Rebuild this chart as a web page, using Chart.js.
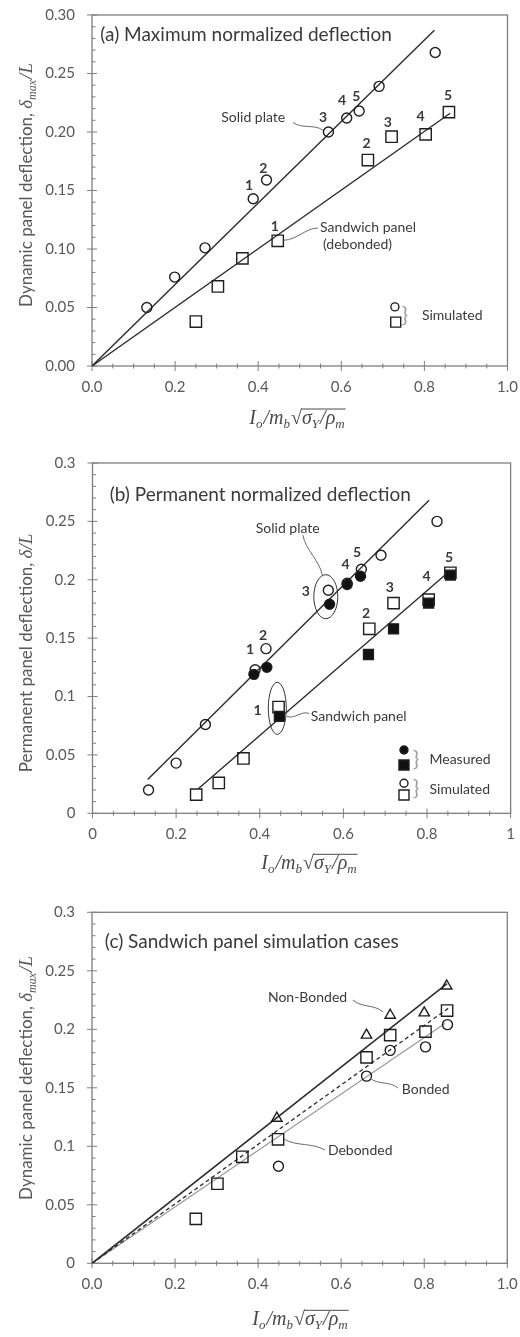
<!DOCTYPE html>
<html>
<head>
<meta charset="utf-8">
<script src="https://cdn.jsdelivr.net/npm/chart.js@4.4.1/dist/chart.umd.min.js"></script>
<style>
  body { margin: 0; background: #fff; }
  canvas { display: block; }
</style>
</head>
<body>
<canvas id="chartA" width="520" height="445"></canvas>
<canvas id="chartB" width="520" height="445"></canvas>
<canvas id="chartC" width="520" height="447"></canvas>
<script>
// tick labels
const xTicksA = ['0.0', '0.2', '0.4', '0.6', '0.8', '1.0'];
const yTicksA = ['0.00', '0.05', '0.10', '0.15', '0.20', '0.25', '0.30'];
const xTicksB = ['0', '0.2', '0.4', '0.6', '0.8', '1'];
const yTicksB = ['0', '0.05', '0.1', '0.15', '0.2', '0.25', '0.3'];
const xTicksC = ['0.0', '0.2', '0.4', '0.6', '0.8', '1.0'];
const yTicksC = ['0', '0.05', '0.1', '0.15', '0.2', '0.25', '0.3'];

// (a) maximum normalized deflection, simulated
const aSolidX = [0.132, 0.199, 0.272, 0.388, 0.420, 0.569, 0.613, 0.643, 0.691, 0.826];
const aSolidY = [0.050, 0.076, 0.101, 0.143, 0.159, 0.200, 0.212, 0.218, 0.239, 0.268];
const aSandX = [0.250, 0.303, 0.362, 0.447, 0.664, 0.721, 0.803, 0.859];
const aSandY = [0.038, 0.068, 0.092, 0.107, 0.176, 0.196, 0.198, 0.217];
const aSolidFitX = [0, 0.824];
const aSolidFitY = [0, 0.287];
const aSandFitX = [0, 0.862];
const aSandFitY = [0, 0.216];

// (b) permanent normalized deflection
const bSolidSimX = [0.134, 0.200, 0.270, 0.389, 0.415, 0.564, 0.609, 0.643, 0.690, 0.824];
const bSolidSimY = [0.020, 0.043, 0.076, 0.123, 0.141, 0.191, 0.197, 0.209, 0.221, 0.250];
const bSolidMeasX = [0.386, 0.417, 0.567, 0.609, 0.641];
const bSolidMeasY = [0.119, 0.125, 0.179, 0.196, 0.203];
const bSandSimX = [0.248, 0.302, 0.361, 0.445, 0.662, 0.720, 0.804, 0.856];
const bSandSimY = [0.016, 0.026, 0.047, 0.091, 0.158, 0.180, 0.183, 0.206];
const bSandMeasX = [0.447, 0.660, 0.720, 0.804, 0.856];
const bSandMeasY = [0.083, 0.136, 0.158, 0.180, 0.204];
const bSolidFitX = [0.132, 0.805];
const bSolidFitY = [0.029, 0.268];
const bSandFitX = [0.253, 0.853];
const bSandFitY = [0.021, 0.207];

// (c) sandwich panel simulation cases
const cNonX = [0.445, 0.661, 0.718, 0.800, 0.854];
const cNonY = [0.124, 0.195, 0.212, 0.214, 0.237];
const cDebX = [0.250, 0.302, 0.362, 0.448, 0.661, 0.718, 0.803, 0.855];
const cDebY = [0.038, 0.068, 0.091, 0.106, 0.176, 0.195, 0.198, 0.216];
const cBondX = [0.449, 0.661, 0.718, 0.803, 0.856];
const cBondY = [0.083, 0.160, 0.182, 0.185, 0.204];
const cNonFitX = [0, 0.855];
const cNonFitY = [0, 0.239];
const cDebFitX = [0, 0.858];
const cDebFitY = [0, 0.218];
const cBondFitX = [0, 0.850];
const cBondFitY = [0, 0.205];

const AXIS = '#7f7f7f';
const TICK_TXT = '#595959';
const TXT = '#3a3a3a';
const SANS = 'Lato';
const SERIF = '"Liberation Serif"';

function pts(xs, ys) {
    return xs.map((x, i) => ({ x: x, y: ys[i] }));
}

function markers(xs, ys, style, fill, r, order) {
    return {
        data: pts(xs, ys),
        showLine: false,
        pointStyle: style,
        pointRadius: r,
        pointHoverRadius: r,
        pointBackgroundColor: fill,
        pointBorderColor: '#1e1e1e',
        pointBorderWidth: 1.4,
        order: order
    };
}

function fitLine(xs, ys, color, width, dash) {
    return {
        data: pts(xs, ys),
        showLine: true,
        borderColor: color,
        borderWidth: width,
        borderDash: dash || [],
        pointRadius: 0,
        order: 5
    };
}

// draws text made of several runs (italic, subscripts)
function drawRuns(ctx, runs, x, y, align) {
    let total = 0;
    runs.forEach(r => { ctx.font = r.f; r.w = ctx.measureText(r.t).width + (r.gap || 0); total += r.w; });
    let cx = align === 'center' ? x - total / 2 : x;
    let overStart = null, overEnd = null;
    runs.forEach(r => {
        ctx.font = r.f;
        ctx.fillText(r.t, cx, y + (r.dy || 0));
        if (r.over) {
            if (overStart === null) overStart = cx;
            overEnd = cx + r.w;
        }
        cx += r.w;
    });
    if (overStart !== null) {
        ctx.lineWidth = 1;
        ctx.beginPath();
        ctx.moveTo(overStart - 1, y - 15);
        ctx.lineTo(overEnd + 1, y - 15);
        ctx.stroke();
    }
}

const xTitleRuns = () => [
    { t: 'I', f: 'italic 20px ' + SERIF },
    { t: 'o', f: 'italic 13px ' + SERIF, dy: 4, gap: 1 },
    { t: '/', f: 'italic 20px ' + SERIF },
    { t: 'm', f: 'italic 20px ' + SERIF },
    { t: 'b', f: 'italic 13px ' + SERIF, dy: 4, gap: 1 },
    { t: '√', f: '20px ' + SERIF },
    { t: 'σ', f: 'italic 20px ' + SERIF, over: true },
    { t: 'Y', f: 'italic 13px ' + SERIF, dy: 4, over: true, gap: 1 },
    { t: '/', f: 'italic 20px ' + SERIF, over: true },
    { t: 'ρ', f: 'italic 20px ' + SERIF, over: true },
    { t: 'm', f: 'italic 13px ' + SERIF, dy: 4, over: true }
];

// decoration plugin built per panel so its settings stay plain objects
function panelDecor(o) {
    return {
        id: 'panelDecor',
        beforeDatasetsDraw(chart) {
            const ctx = chart.ctx, a = chart.chartArea;
            const sx = chart.scales.x, sy = chart.scales.y;
            ctx.save();
            ctx.strokeStyle = AXIS;
            ctx.lineWidth = 1.3;
            ctx.strokeRect(a.left, a.top, a.right - a.left, a.bottom - a.top);
            ctx.lineWidth = 1;
            for (let i = 0; i <= 20; i++) {
                const px = sx.getPixelForValue(i * 0.05);
                const major = i % 4 === 0;
                ctx.beginPath();
                ctx.moveTo(px, a.bottom - (major ? 5 : 2.5));
                ctx.lineTo(px, a.bottom + (major ? 5 : 2.5));
                ctx.stroke();
            }
            for (let i = 0; i <= 30; i++) {
                const py = sy.getPixelForValue(i * 0.01);
                const major = i % 5 === 0;
                ctx.beginPath();
                ctx.moveTo(a.left - (major ? 5 : 0), py);
                ctx.lineTo(a.left + (major ? 5 : 3.5), py);
                ctx.stroke();
            }
            ctx.restore();
        },
        afterDatasetsDraw(chart) {
            const ctx = chart.ctx, a = chart.chartArea;
            const sx = chart.scales.x, sy = chart.scales.y;
            const X = v => sx.getPixelForValue(v), Y = v => sy.getPixelForValue(v);
            ctx.save();
            // leader lines
            ctx.strokeStyle = '#6a6a6a';
            ctx.lineWidth = 1;
            (o.leaders || []).forEach(l => {
                const x0 = X(l[0]), y0 = Y(l[1]), x1 = X(l[2]), y1 = Y(l[3]);
                const dx = x1 - x0, dy = y1 - y0;
                const len = Math.hypot(dx, dy), nx = -dy / len * 4, ny = dx / len * 4;
                ctx.beginPath();
                ctx.moveTo(x0, y0);
                ctx.bezierCurveTo(x0 + dx / 3 + nx, y0 + dy / 3 + ny, x0 + 2 * dx / 3 - nx, y0 + 2 * dy / 3 - ny, x1, y1);
                ctx.stroke();
            });
            // ellipses
            ctx.strokeStyle = '#333';
            (o.ellipses || []).forEach(e => {
                ctx.beginPath();
                ctx.ellipse(X(e.x), Y(e.y), e.rx, e.ry, 0, 0, Math.PI * 2);
                ctx.stroke();
            });
            // legend symbols
            ctx.strokeStyle = '#1e1e1e';
            ctx.lineWidth = 1.4;
            (o.symbols || []).forEach(s => {
                const px = X(s.x), py = Y(s.y);
                ctx.beginPath();
                if (s.style === 'circle') ctx.arc(px, py, s.r, 0, Math.PI * 2);
                else ctx.rect(px - s.r, py - s.r, 2 * s.r, 2 * s.r);
                if (s.filled) { ctx.fillStyle = '#111'; ctx.fill(); }
                ctx.stroke();
            });
            // texts
            ctx.textBaseline = 'middle';
            (o.texts || []).forEach(t => {
                ctx.font = t.font || ('14px ' + SANS);
                ctx.fillStyle = t.color || TXT;
                ctx.textAlign = t.align || 'left';
                ctx.fillText(t.t, X(t.x), Y(t.y));
            });
            // axis titles
            ctx.fillStyle = '#4a4a4a';
            ctx.strokeStyle = '#4a4a4a';
            ctx.textAlign = 'left';
            ctx.textBaseline = 'alphabetic';
            drawRuns(ctx, xTitleRuns(), o.xTitleX, a.bottom + o.xTitleDy, 'center');
            ctx.fillStyle = TICK_TXT;
            ctx.translate(o.yTitleX, o.yTitleY);
            ctx.rotate(-Math.PI / 2);
            drawRuns(ctx, o.yTitle, 0, 0, 'center');
            ctx.restore();
        }
    };
}

function makeChart(id, datasets, xLabels, yLabels, area, decor) {
    const canvas = document.getElementById(id);
    return new Chart(canvas.getContext('2d'), {
        type: 'scatter',
        data: { datasets: datasets },
        plugins: [panelDecor(decor)],
        options: {
            responsive: false,
            animation: false,
            events: [],
            layout: { padding: { top: area.top, right: canvas.width - area.right, left: 0, bottom: 0 } },
            plugins: {
                legend: { display: false },
                tooltip: { enabled: false }
            },
            scales: {
                x: {
                    type: 'linear', min: 0, max: 1,
                    grid: { display: false, drawTicks: false },
                    border: { display: false },
                    ticks: {
                        stepSize: 0.2, padding: 12, maxRotation: 0,
                        color: TICK_TXT, font: { family: SANS, size: 15 },
                        callback: (v, i) => xLabels[i]
                    },
                    afterFit: s => { s.height = canvas.height - area.bottom; s.paddingLeft = 0; s.paddingRight = 0; }
                },
                y: {
                    type: 'linear', min: 0, max: 0.3,
                    grid: { display: false, drawTicks: false },
                    border: { display: false },
                    ticks: {
                        stepSize: 0.05, padding: 17,
                        color: TICK_TXT, font: { family: SANS, size: 15 },
                        callback: (v, i) => yLabels[i]
                    },
                    afterFit: s => { s.width = area.left; s.paddingTop = 0; s.paddingBottom = 0; }
                }
            }
        }
    });
}

const numFont = 'bold 14px ' + SANS;
const braceFont = '22px ' + SANS;
const yTitleDyn = [
    { t: 'Dynamic panel deflection, ', f: '17px ' + SANS },
    { t: 'δ', f: 'italic 19px ' + SERIF },
    { t: 'max', f: 'italic 12px ' + SERIF, dy: 4, gap: 1 },
    { t: '/L', f: 'italic 19px ' + SERIF }
];

// panel (a)
makeChart('chartA', [
    markers(aSolidX, aSolidY, 'circle', 'rgba(0,0,0,0)', 5, 1),
    markers(aSandX, aSandY, 'rect', 'rgba(0,0,0,0)', 8, 1),
    fitLine(aSolidFitX, aSolidFitY, '#2b2b2b', 1.4),
    fitLine(aSandFitX, aSandFitY, '#2b2b2b', 1.4)
], xTicksA, yTicksA, { left: 92, right: 507.5, top: 15, bottom: 366 }, {
    xTitleX: 297, xTitleDy: 58, yTitleX: 32, yTitleY: 185,
    yTitle: yTitleDyn,
    texts: [
        { x: 0.02, y: 0.283, t: '(a) Maximum normalized deflection', font: '19px ' + SANS },
        { x: 0.388, y: 0.212, t: 'Solid plate', align: 'center' },
        { x: 0.549, y: 0.118, t: 'Sandwich panel' },
        { x: 0.556, y: 0.104, t: '(debonded)' },
        { x: 0.794, y: 0.043, t: 'Simulated' },
        { x: 0.745, y: 0.044, t: '}', font: braceFont, color: '#a0a0a0' },
        { x: 0.378, y: 0.154, t: '1', font: numFont, align: 'center' },
        { x: 0.412, y: 0.169, t: '2', font: numFont, align: 'center' },
        { x: 0.556, y: 0.212, t: '3', font: numFont, align: 'center' },
        { x: 0.602, y: 0.227, t: '4', font: numFont, align: 'center' },
        { x: 0.636, y: 0.230, t: '5', font: numFont, align: 'center' },
        { x: 0.440, y: 0.119, t: '1', font: numFont, align: 'center' },
        { x: 0.661, y: 0.190, t: '2', font: numFont, align: 'center' },
        { x: 0.712, y: 0.208, t: '3', font: numFont, align: 'center' },
        { x: 0.791, y: 0.213, t: '4', font: numFont, align: 'center' },
        { x: 0.857, y: 0.231, t: '5', font: numFont, align: 'center' }
    ],
    leaders: [[0.484, 0.208, 0.556, 0.2015], [0.462, 0.1075, 0.544, 0.118]],
    symbols: [
        { x: 0.729, y: 0.0505, style: 'circle', r: 4 },
        { x: 0.731, y: 0.0375, style: 'rect', r: 5 }
    ]
});

// panel (b)
makeChart('chartB', [
    markers(bSolidSimX, bSolidSimY, 'circle', 'rgba(0,0,0,0)', 5, 2),
    markers(bSandSimX, bSandSimY, 'rect', 'rgba(0,0,0,0)', 8, 2),
    markers(bSolidMeasX, bSolidMeasY, 'circle', '#111', 5, 1),
    markers(bSandMeasX, bSandMeasY, 'rect', '#111', 7, 1),
    fitLine(bSolidFitX, bSolidFitY, '#2b2b2b', 1.4),
    fitLine(bSandFitX, bSandFitY, '#2b2b2b', 1.4)
], xTicksB, yTicksB, { left: 92.5, right: 515, top: 18, bottom: 368.3 }, {
    xTitleX: 309, xTitleDy: 56, yTitleX: 32, yTitleY: 208,
    yTitle: [
        { t: 'Permanent panel deflection, ', f: '17px ' + SANS },
        { t: 'δ/L', f: 'italic 19px ' + SERIF }
    ],
    texts: [
        { x: 0.041, y: 0.2726, t: '(b) Permanent normalized deflection', font: '19px ' + SANS },
        { x: 0.467, y: 0.2443, t: 'Solid plate', align: 'center' },
        { x: 0.522, y: 0.0833, t: 'Sandwich panel' },
        { x: 0.806, y: 0.0462, t: 'Measured' },
        { x: 0.806, y: 0.0206, t: 'Simulated' },
        { x: 0.766, y: 0.047, t: '}', font: braceFont, color: '#a0a0a0' },
        { x: 0.766, y: 0.0215, t: '}', font: braceFont, color: '#a0a0a0' },
        { x: 0.377, y: 0.1407, t: '1', font: numFont, align: 'center' },
        { x: 0.408, y: 0.1519, t: '2', font: numFont, align: 'center' },
        { x: 0.510, y: 0.190, t: '3', font: numFont, align: 'center' },
        { x: 0.605, y: 0.2135, t: '4', font: numFont, align: 'center' },
        { x: 0.633, y: 0.223, t: '5', font: numFont, align: 'center' },
        { x: 0.395, y: 0.0879, t: '1', font: numFont, align: 'center' },
        { x: 0.654, y: 0.1715, t: '2', font: numFont, align: 'center' },
        { x: 0.711, y: 0.1938, t: '3', font: numFont, align: 'center' },
        { x: 0.799, y: 0.2024, t: '4', font: numFont, align: 'center' },
        { x: 0.853, y: 0.2195, t: '5', font: numFont, align: 'center' }
    ],
    leaders: [[0.503, 0.2383, 0.550, 0.2036], [0.465, 0.083, 0.518, 0.0855]],
    ellipses: [
        { x: 0.558, y: 0.1855, rx: 12, ry: 22 },
        { x: 0.442, y: 0.0899, rx: 9, ry: 26 }
    ],
    symbols: [
        { x: 0.745, y: 0.0542, style: 'circle', r: 4, filled: true },
        { x: 0.745, y: 0.0414, style: 'rect', r: 5, filled: true },
        { x: 0.745, y: 0.0257, style: 'circle', r: 4 },
        { x: 0.745, y: 0.0157, style: 'rect', r: 5 }
    ]
});

// panel (c)
makeChart('chartC', [
    markers(cNonX, cNonY, 'triangle', 'rgba(0,0,0,0)', 6, 1),
    markers(cDebX, cDebY, 'rect', 'rgba(0,0,0,0)', 8, 1),
    markers(cBondX, cBondY, 'circle', 'rgba(0,0,0,0)', 5, 1),
    fitLine(cNonFitX, cNonFitY, '#2b2b2b', 1.5),
    fitLine(cDebFitX, cDebFitY, '#2b2b2b', 1.3, [4, 3]),
    fitLine(cBondFitX, cBondFitY, '#9a9a9a', 1.2)
], xTicksC, yTicksC, { left: 92, right: 507.3, top: 22.3, bottom: 373.3 }, {
    xTitleX: 300, xTitleDy: 62, yTitleX: 32, yTitleY: 188,
    yTitle: yTitleDyn,
    texts: [
        { x: 0.031, y: 0.2749, t: '(c) Sandwich panel simulation cases', font: '19px ' + SANS },
        { x: 0.519, y: 0.2274, t: 'Non-Bonded', align: 'center' },
        { x: 0.746, y: 0.1487, t: 'Bonded' },
        { x: 0.568, y: 0.0968, t: 'Debonded' }
    ],
    leaders: [[0.628, 0.225, 0.701, 0.2148], [0.669, 0.1584, 0.737, 0.1498], [0.462, 0.1062, 0.561, 0.0968]]
});
</script>
</body>
</html>
